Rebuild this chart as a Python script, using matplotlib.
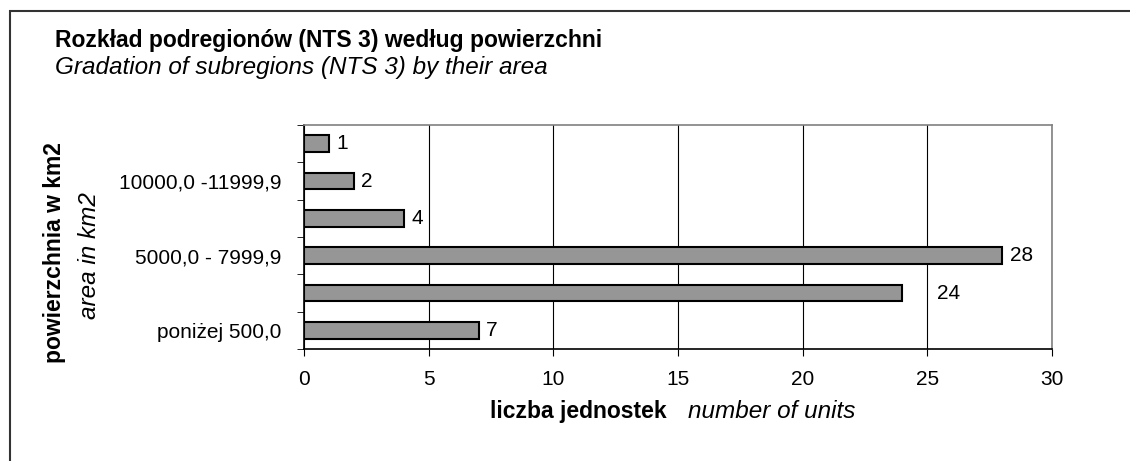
import matplotlib.pyplot as plt
from matplotlib.patches import Rectangle

plt.rcParams['font.family'] = ['Liberation Sans', 'DejaVu Sans']

# categories bottom -> top, only every other label is printed in the original
categories = ['poniżej 500,0', '', '5000,0 - 7999,9', '', '10000,0 -11999,9', '']
counts = [7, 24, 28, 4, 2, 1]
x_ticks = [0, 5, 10, 15, 20, 25, 30]

# the "24" label sits further right than the others
label_gap = [0.3, 1.4, 0.3, 0.3, 0.3, 0.3]

fig = plt.figure(figsize=(11.3, 4.61), dpi=100)
ax = fig.add_axes([304 / 1130, 1 - 349 / 461, 748 / 1130, 224 / 461])

pos = list(range(len(categories)))
ax.barh(pos, counts, height=0.45, color='#969696', edgecolor='black', linewidth=1.5, zorder=3)

for i, v in enumerate(counts):
    ax.text(v + label_gap[i], i, str(v), va='center', ha='left', fontsize=15)

ax.set_xlim(0, 30)
ax.set_ylim(-0.5, 5.5)
ax.set_xticks(x_ticks)
ax.set_xticklabels([str(t) for t in x_ticks], fontsize=15)
ax.set_yticks(pos)
ax.set_yticklabels(categories, fontsize=15)
ax.tick_params(axis='y', length=0, pad=16)
ax.set_yticks([p - 0.5 for p in pos] + [5.5], minor=True)
ax.tick_params(axis='y', which='minor', length=5, direction='out', color='black')
ax.tick_params(axis='x', length=5, direction='out', pad=10)

ax.grid(axis='x', color='black', linewidth=0.8, zorder=0)
for s in ['top', 'right']:
    ax.spines[s].set_color('#808080')
    ax.spines[s].set_linewidth(1.2)
for s in ['left', 'bottom']:
    ax.spines[s].set_color('black')
    ax.spines[s].set_linewidth(1.2)

# titles
fig.text(55 / 1130, 1 - 47 / 461, 'Rozkład podregionów (NTS 3) według powierzchni',
         fontsize=16.5, fontweight='bold', ha='left', va='baseline')
fig.text(55 / 1130, 1 - 74 / 461, 'Gradation of subregions (NTS 3) by their area',
         fontsize=17.5, style='italic', ha='left', va='baseline')

# axis labels
fig.text(55 / 1130, 1 - 253 / 461, 'powierzchnia w km2', fontsize=16.5, fontweight='bold',
         rotation=90, ha='center', va='center')
fig.text(89 / 1130, 1 - 256 / 461, 'area in km2', fontsize=17.5, style='italic',
         rotation=90, ha='center', va='center')
fig.text(667 / 1130, 1 - 411 / 461, 'liczba jednostek', fontsize=16.5, fontweight='bold',
         ha='right', va='center')
fig.text(688 / 1130, 1 - 411 / 461, 'number of units', fontsize=17.5, style='italic',
         ha='left', va='center')

# outer chart frame (runs off the right and bottom edge)
fig.add_artist(Rectangle((10 / 1130, -0.05), 1.1, 1 - 11 / 461 + 0.05, transform=fig.transFigure,
                         fill=False, edgecolor='#333333', linewidth=1.5))

fig.savefig('out.png', dpi=100)
